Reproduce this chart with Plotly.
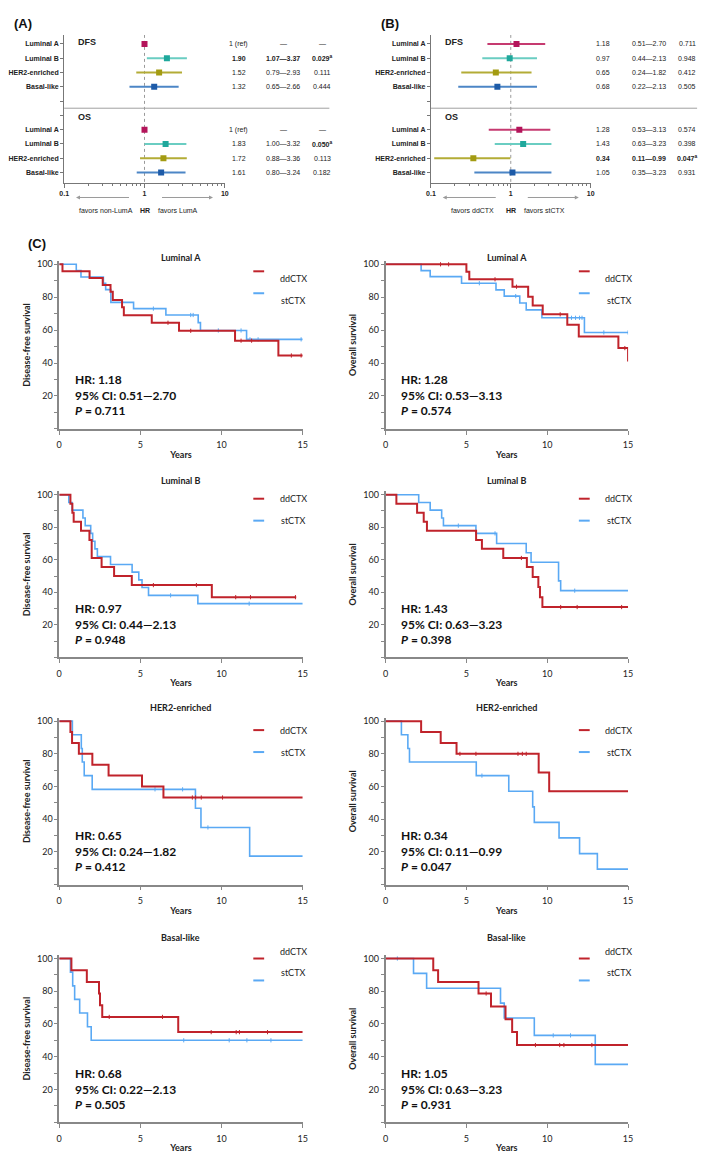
import plotly.graph_objects as go

W, H = 709, 1157

# ---------------- forest plot data ----------------
SUBTYPES = ["Luminal A", "Luminal B", "HER2-enriched", "Basal-like"]
SUB_MARKER = ["#B3145A", "#1FA89C", "#A39B12", "#1D5BA8"]
SUB_LINE = ["#C63A70", "#6ACDC2", "#B3AC36", "#4C86C6"]
ROW_POS = [0, 1, 2, 3, 6, 7, 8, 9]          # DFS rows, then OS rows

# (A) each subtype vs Luminal A
A_HR = [1.0, 1.90, 1.52, 1.32, 1.0, 1.83, 1.72, 1.61]
A_LO = [None, 1.07, 0.79, 0.65, None, 1.00, 0.88, 0.80]
A_HI = [None, 3.37, 2.93, 2.66, None, 3.32, 3.36, 3.24]
A_HR_TXT = ["1 (ref)", "1.90", "1.52", "1.32", "1 (ref)", "1.83", "1.72", "1.61"]
A_CI_TXT = ["—", "1.07—3.37", "0.79—2.93", "0.65—2.66", "—", "1.00—3.32", "0.88—3.36", "0.80—3.24"]
A_P_TXT = ["—", "0.029<sup>a</sup>", "0.111", "0.444", "—", "0.050<sup>a</sup>", "0.113", "0.182"]
A_BOLD = ["", "hcp", "", "", "", "p", "", ""]

# (B) ddCTX vs stCTX within subtype
B_HR = [1.18, 0.97, 0.65, 0.68, 1.28, 1.43, 0.34, 1.05]
B_LO = [0.51, 0.44, 0.24, 0.22, 0.53, 0.63, 0.11, 0.35]
B_HI = [2.70, 2.13, 1.82, 2.13, 3.13, 3.23, 0.99, 3.23]
B_HR_TXT = ["1.18", "0.97", "0.65", "0.68", "1.28", "1.43", "0.34", "1.05"]
B_CI_TXT = ["0.51—2.70", "0.44—2.13", "0.24—1.82", "0.22—2.13", "0.53—3.13", "0.63—3.23", "0.11—0.99", "0.35—3.23"]
B_P_TXT = ["0.711", "0.948", "0.412", "0.505", "0.574", "0.398", "0.047<sup>a</sup>", "0.931"]
B_BOLD = ["", "", "", "", "", "", "hcp", ""]

# ---------------- Kaplan-Meier data (time in years, survival in %) ----------------
SERIES = ["ddCTX", "stCTX"]
SERIES_COLOR = ["#C0232B", "#5AA9F4"]

DFS_LUMA = dict(
    dd_t=[0.2, 1.87, 2.68, 3.16, 3.3, 3.87, 3.98, 5.7, 7.38, 10.83, 13.5],
    dd_s=[95.8, 91.7, 87.5, 83.3, 78.3, 73.9, 69.0, 64.5, 59.6, 53.6, 44.6],
    dd_c=[6.7, 8.1, 11.2, 11.85, 14.3, 14.9], dd_end=15,
    st_t=[1.05, 1.34, 2.72, 2.86, 3.18, 4.58, 6.57, 8.56, 8.7, 11.54],
    st_s=[96.2, 92.3, 88.5, 84.6, 76.9, 73.1, 69.2, 64.6, 59.8, 54.4],
    st_c=[5.8, 8.1, 8.25, 9.8, 11.2, 11.75, 12.25, 14.9], st_end=15)
OS_LUMA = dict(
    dd_t=[5.0, 5.18, 7.85, 8.82, 9.1, 9.72, 11.24, 11.95, 14.4, 15.0],
    dd_s=[95.5, 90.9, 86.4, 80.3, 75.0, 69.6, 63.3, 56.2, 49.1, 41.0],
    dd_c=[3.4, 3.9, 6.77, 8.1, 10.8, 14.8], dd_end=15,
    st_t=[2.2, 2.76, 4.7, 6.83, 7.34, 8.3, 8.7, 9.67, 12.3],
    st_s=[96.2, 92.5, 88.5, 84.5, 80.7, 76.5, 72.3, 67.5, 58.6],
    st_c=[5.8, 8.05, 11.5, 11.75, 12.0, 12.15, 13.5, 15.0], st_end=15)
DFS_LUMB = dict(
    dd_t=[0.69, 0.81, 0.89, 1.34, 1.86, 2.0, 2.61, 3.38, 4.47, 9.4],
    dd_s=[94.4, 88.9, 83.3, 77.8, 72.2, 61.1, 55.6, 50.0, 44.4, 37.0],
    dd_c=[5.8, 8.45, 10.87, 11.78, 14.55], dd_end=14.6,
    st_t=[0.59, 0.79, 1.46, 1.6, 1.94, 2.06, 2.2, 2.35, 3.16, 4.49, 4.9, 5.1, 5.5, 8.54],
    st_s=[95.2, 90.5, 85.7, 81.0, 76.2, 71.4, 66.7, 61.9, 57.1, 52.4, 47.6, 42.9, 38.1, 33.0],
    st_c=[6.86, 11.7], st_end=15)
OS_LUMB = dict(
    dd_t=[0.67, 1.95, 2.36, 2.56, 5.6, 5.96, 7.28, 8.74, 9.1, 9.45, 9.55, 9.7],
    dd_s=[94.4, 88.9, 83.3, 77.8, 72.2, 66.7, 61.1, 55.6, 49.4, 43.2, 37.0, 30.9],
    dd_c=[8.4, 10.83, 11.85, 14.6], dd_end=15,
    st_t=[2.05, 2.76, 3.47, 3.58, 5.59, 6.87, 8.7, 9.0, 10.7, 10.83],
    st_s=[95.2, 90.5, 85.7, 81.0, 76.2, 70.0, 64.3, 58.5, 47.0, 41.0],
    st_c=[4.5, 6.77, 11.7], st_end=15)
DFS_HER2 = dict(
    dd_t=[0.69, 0.79, 1.21, 2.04, 3.04, 5.1, 6.42],
    dd_s=[93.3, 86.7, 80.0, 73.3, 66.7, 60.0, 53.3],
    dd_c=[8.2, 8.4, 8.75, 10.06], dd_end=15,
    st_t=[0.81, 1.36, 1.42, 1.54, 2.03, 8.39, 8.73, 11.73],
    st_s=[91.7, 83.3, 75.0, 66.7, 58.3, 46.7, 35.0, 17.5],
    st_c=[5.9, 7.6, 9.16], st_end=15)
OS_HER2 = dict(
    dd_t=[2.2, 3.41, 4.39, 9.47, 10.12],
    dd_s=[93.3, 86.7, 80.0, 68.6, 57.1],
    dd_c=[4.6, 5.59, 8.19, 8.46, 8.7], dd_end=15,
    st_t=[0.98, 1.38, 1.48, 5.61, 7.62, 9.1, 9.2, 10.73, 12.0, 13.1],
    st_s=[91.7, 83.3, 75.0, 66.7, 57.1, 47.6, 38.1, 28.6, 19.0, 9.5],
    st_c=[5.96], st_end=15)
DFS_BASAL = dict(
    dd_t=[0.75, 1.7, 2.45, 2.51, 2.65, 7.33],
    dd_s=[92.9, 85.7, 78.6, 71.4, 64.3, 55.0],
    dd_c=[3.08, 6.36, 9.36, 10.9, 11.1, 12.83], dd_end=15,
    st_t=[0.69, 0.83, 0.95, 1.26, 1.74, 1.97],
    st_s=[91.7, 83.3, 75.0, 66.7, 58.3, 50.0],
    st_c=[7.67, 10.47, 11.56, 13.04], st_end=15)
OS_BASAL = dict(
    dd_t=[2.95, 3.25, 5.75, 6.52, 7.42, 7.83, 8.13],
    dd_s=[92.9, 85.7, 78.6, 70.7, 62.9, 55.0, 47.1],
    dd_c=[6.22, 9.27, 10.77, 11.03, 12.76], dd_end=15,
    st_t=[1.73, 2.54, 7.11, 7.34, 9.2, 12.97],
    st_s=[90.9, 81.8, 72.7, 63.6, 53.0, 35.3],
    st_c=[0.73, 10.37, 11.44], st_end=15)

KM_PANELS = [DFS_LUMA, OS_LUMA, DFS_LUMB, OS_LUMB, DFS_HER2, OS_HER2, DFS_BASAL, OS_BASAL]
KM_TITLES = ["Luminal A", "Luminal A", "Luminal B", "Luminal B",
             "HER2-enriched", "HER2-enriched", "Basal-like", "Basal-like"]
KM_YTITLES = ["Disease-free survival", "Overall survival"]
KM_HR = ["1.18", "1.28", "0.97", "1.43", "0.65", "0.34", "0.68", "1.05"]
KM_CI = ["0.51—2.70", "0.53—3.13", "0.44—2.13", "0.63—3.23",
         "0.24—1.82", "0.11—0.99", "0.22—2.13", "0.63—3.23"]
KM_P = ["0.711", "0.574", "0.948", "0.398", "0.412", "0.047", "0.505", "0.931"]

ARIAL = "Liberation Sans, Arial, sans-serif"
CAL = "Lato, Carlito, sans-serif"
TXT = "#222222"


def px(x):
    return x / W


def py(y):
    return 1 - y / H


fig = go.Figure()
ann = []
shapes = []
layout_axes = {}


def ax_names(i):
    s = "" if i == 1 else str(i)
    return "x" + s, "y" + s, "xaxis" + s, "yaxis" + s


# ---------------- forest panels ----------------
ROW0_PX, ROW_STEP = 41, 14.33
F_TOP, F_BOT = 32, 180


def forest(i, x0, x1, hr, lo, hi, hr_txt, ci_txt, p_txt, bold, cols, sep_end, favors, letter):
    xr, yr, xk, yk = ax_names(i)
    # reference line at HR = 1
    fig.add_trace(go.Scatter(x=[1, 1], y=[-0.63, 9.7], mode="lines", xaxis=xr, yaxis=yr,
                             line=dict(color="#9a9a9a", width=1, dash="dot"),
                             showlegend=False, hoverinfo="skip"))
    for k, r in enumerate(ROW_POS):
        c = k % 4
        if lo[k] is not None:
            fig.add_trace(go.Scatter(x=[lo[k], hi[k]], y=[r, r], mode="lines", xaxis=xr, yaxis=yr,
                                     line=dict(color=SUB_LINE[c], width=2),
                                     showlegend=False, hoverinfo="skip"))
        fig.add_trace(go.Scatter(x=[hr[k]], y=[r], mode="markers", xaxis=xr, yaxis=yr,
                                 marker=dict(symbol="square", size=6, color=SUB_MARKER[c]),
                                 showlegend=False))
        for j, (txt, col) in enumerate(zip([hr_txt[k], ci_txt[k], p_txt[k]], cols)):
            b = "hcp"[j] in bold[k]
            ann.append(dict(x=px(col), y=r, xref="paper", yref=yr, showarrow=False,
                            xanchor="center", text=f"<b>{txt}</b>" if b else txt,
                            font=dict(size=7, family=ARIAL, color=TXT)))
    for txt, col in zip(["<b>HR</b>", "<b>95% CI</b>", "<b><i>P</i>-value</b>"], cols):
        ann.append(dict(x=px(col), y=-1.12, xref="paper", yref=yr, showarrow=False, text=txt,
                        xanchor="center", font=dict(size=7, family=ARIAL, color=TXT)))
    for txt, r in zip(["DFS", "OS"], [-0.1, 5.1]):
        ann.append(dict(x=px(x0 + 12), y=r, xref="paper", yref=yr, showarrow=False,
                        xanchor="left", text=f"<b>{txt}</b>",
                        font=dict(size=9, family=ARIAL, color=TXT)))
    shapes.append(dict(type="line", xref="paper", yref=yr, x0=px(x0), x1=px(sep_end),
                       y0=4.5, y1=4.5, line=dict(color="#a0a0a0", width=1)))
    # arrows + favors text
    one = x0 + (x1 - x0) / 2
    ann.append(dict(x=px(x0 + 12), y=py(195), xref="paper", yref="paper", text=" ",
                    showarrow=True, ax=56, ay=0, arrowhead=2, arrowsize=0.8,
                    arrowwidth=1, arrowcolor="#9a9a9a"))
    ann.append(dict(x=px(x1 - 12), y=py(195), xref="paper", yref="paper", text=" ",
                    showarrow=True, ax=-54, ay=0, arrowhead=2, arrowsize=0.8,
                    arrowwidth=1, arrowcolor="#9a9a9a"))
    for txt, xx in zip([favors[0], "<b>HR</b>", favors[1]], [one - 39, one, one + 34]):
        ann.append(dict(x=px(xx), y=py(203), xref="paper", yref="paper", showarrow=False,
                        xanchor="center", text=txt, font=dict(size=7, family=ARIAL, color=TXT)))
    ann.append(dict(x=px(x0 - 53), y=py(11), xref="paper", yref="paper", showarrow=False,
                    xanchor="left", text=f"<b>{letter}</b>",
                    font=dict(size=13, family=ARIAL, color="#111")))

    minor_vals = [m * 10 ** e for e in (-1, 0) for m in range(2, 10)]
    layout_axes[xk] = dict(domain=[px(x0), px(x1)], type="log", range=[-1, 1], anchor=yr,
                           tickvals=[0.1, 1, 10], ticktext=["<b>0.1</b>", "<b>1</b>", "<b>10</b>"],
                           ticks="outside", ticklen=4, tickcolor="#777", showline=True,
                           linecolor="#777", linewidth=1, showgrid=False, zeroline=False,
                           tickfont=dict(size=7, family=ARIAL, color=TXT),
                           minor=dict(tickvals=minor_vals, ticks="outside", ticklen=2,
                                      tickcolor="#777", showgrid=False))
    top = (F_TOP - ROW0_PX) / ROW_STEP
    bot = (F_BOT - ROW0_PX) / ROW_STEP
    labels = ["<b>%s</b>" % s for s in SUBTYPES]
    layout_axes[yk] = dict(domain=[py(F_BOT), py(F_TOP)], range=[bot, top], anchor=xr,
                           tickvals=list(range(10)), ticktext=labels + ["", ""] + labels,
                           ticks="outside", ticklen=3, tickcolor="#777", showline=True,
                           linecolor="#777", linewidth=1, showgrid=False, zeroline=False,
                           tickfont=dict(size=7, family=ARIAL, color=TXT))


forest(1, 60, 223, A_HR, A_LO, A_HI, A_HR_TXT, A_CI_TXT, A_P_TXT, A_BOLD,
       [237, 282, 322], 329, ["favors non-LumA", "favors LumA"], "(A)")
forest(2, 432, 594, B_HR, B_LO, B_HI, B_HR_TXT, B_CI_TXT, B_P_TXT, B_BOLD,
       [607, 653, 692], 702, ["favors ddCTX", "favors stCTX"], "(B)")

ann.append(dict(x=px(21), y=py(232), xref="paper", yref="paper", showarrow=False,
                xanchor="left", text="<b>(C)</b>", font=dict(size=13, family=ARIAL, color="#111")))

# ---------------- Kaplan-Meier panels ----------------
KM_ROW_Y0 = [427, 656, 884, 1122]
KM_ROW_Y100 = [262, 493, 720, 958]
KM_COL_X = [(55, 302), (386, 632)]
LEG_Y = [269, 497, 729, 958]


def surv_at(t, s, c):
    v = 100
    for ti, si in zip(t, s):
        if ti <= c:
            v = si
    return v


for n, pnl in enumerate(KM_PANELS):
    row, col = divmod(n, 2)
    i = n + 3
    xr, yr, xk, yk = ax_names(i)
    x0, x1 = KM_COL_X[col]
    y0, y100 = KM_ROW_Y0[row], KM_ROW_Y100[row]
    ytop = y100 - 0.02 * (y0 - y100)

    for a, arm in enumerate(["st", "dd"]):
        k = 1 - a
        t, s, end = pnl[arm + "_t"], pnl[arm + "_s"], pnl[arm + "_end"]
        fig.add_trace(go.Scatter(x=[0] + t + [end], y=[100] + s + [s[-1]], mode="lines",
                                 line=dict(color=SERIES_COLOR[k], width=2 if k == 0 else 1.6,
                                           shape="hv"),
                                 xaxis=xr, yaxis=yr, name=SERIES[k], showlegend=False))
        cens = pnl[arm + "_c"]
        fig.add_trace(go.Scatter(x=cens, y=[surv_at(t, s, c) for c in cens], mode="markers",
                                 marker=dict(symbol="line-ns", size=3,
                                             line=dict(color=SERIES_COLOR[k], width=1)),
                                 xaxis=xr, yaxis=yr, showlegend=False, hoverinfo="skip"))

    # legend (drawn by hand, like the original)
    for k, name in enumerate(SERIES):
        ly = LEG_Y[row] + 22 * k
        lx0 = x0 + 0.797 * (x1 - x0)
        shapes.append(dict(type="line", xref="paper", yref="paper", x0=px(lx0), x1=px(lx0 + 11),
                           y0=py(ly), y1=py(ly), line=dict(color=SERIES_COLOR[k], width=2)))
        ann.append(dict(x=px(x0 + 0.962 * (x1 - x0)), y=py(ly), xref="paper", yref="paper",
                        showarrow=False, xanchor="center", text=name,
                        font=dict(size=9, family=CAL, color=TXT)))

    ann.append(dict(x=0.5, y=py(y100 - 14), xref=xr + " domain", yref="paper", showarrow=False,
                    xanchor="center", text=f"<b>{KM_TITLES[n]}</b>",
                    font=dict(size=9, family=CAL, color=TXT)))
    ann.append(dict(x=0.055, y=20.5, xref=xr + " domain", yref=yr, showarrow=False,
                    xanchor="left", align="left",
                    text=f"<b>HR: {KM_HR[n]}</b><br><b>95% CI: {KM_CI[n]}</b><br>"
                         f"<b><i>P</i> = {KM_P[n]}</b>",
                    font=dict(size=12, family=CAL, color="#111")))

    layout_axes[xk] = dict(domain=[px(x0), px(x1)], range=[0, 15], anchor=yr,
                           tickvals=[0, 5, 10, 15], ticks="outside", ticklen=4,
                           ticklabelstandoff=3, tickcolor="#888", showline=True,
                           linecolor="#888", linewidth=1.5, showgrid=False, zeroline=False,
                           tickfont=dict(size=9, family=CAL, color=TXT),
                           title=dict(text="<b>Years</b>", standoff=2,
                                      font=dict(size=9, family=CAL, color=TXT)))
    layout_axes[yk] = dict(domain=[py(y0), py(ytop)], range=[0, 102], anchor=xr,
                           tickvals=[20, 40, 60, 80, 100], ticks="outside", ticklen=3,
                           tickcolor="#888", showline=True, linecolor="#888", linewidth=1.5,
                           showgrid=False, zeroline=False,
                           tickfont=dict(size=9, family=CAL, color=TXT),
                           minor=dict(dtick=10, tick0=0, ticks="outside", ticklen=3,
                                      tickcolor="#888", showgrid=False),
                           title=dict(text=f"<b>{KM_YTITLES[col]}</b>", standoff=5,
                                      font=dict(size=9, family=CAL, color=TXT)))

fig.update_layout(
    width=W, height=H, autosize=False,
    margin=dict(l=0, r=0, t=0, b=0),
    paper_bgcolor="white", plot_bgcolor="white",
    showlegend=False,
    annotations=ann, shapes=shapes,
    **layout_axes,
)

# the page's default body margin would push the figure 8px off its place
fig.write_html("out.html", config={"displayModeBar": False},
               post_script="document.body.style.margin='0px';")
